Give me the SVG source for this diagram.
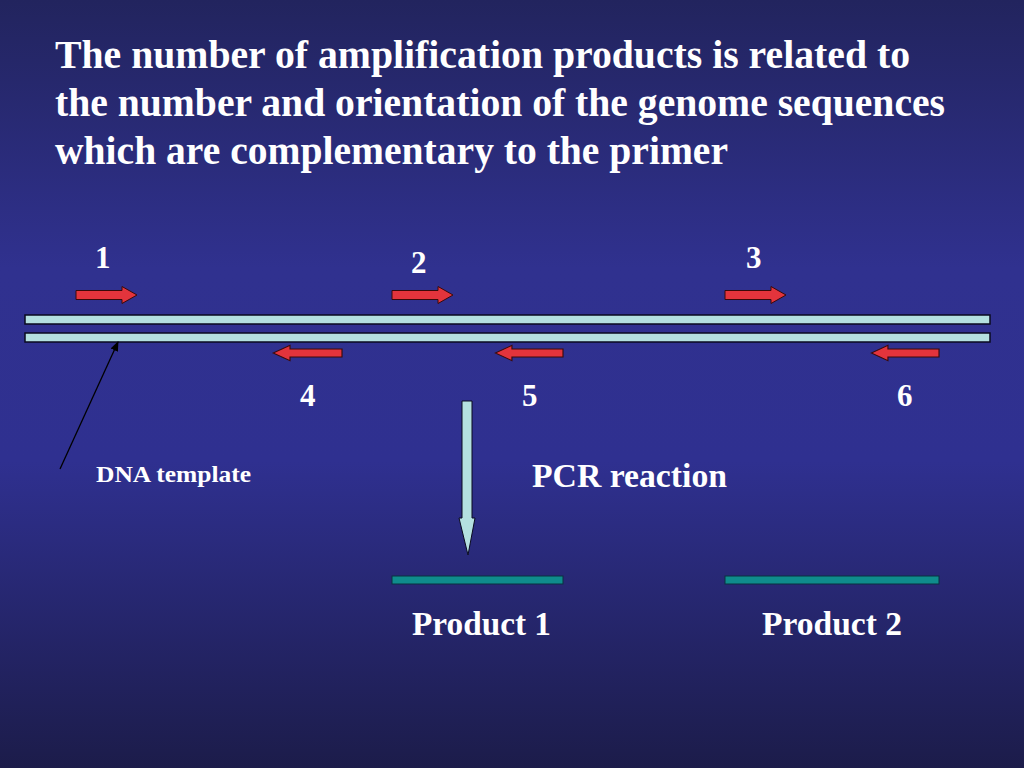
<svg xmlns="http://www.w3.org/2000/svg" width="1024" height="768" viewBox="0 0 1024 768">
<defs>
<linearGradient id="bg" x1="0" y1="0" x2="0" y2="1">
<stop offset="0" stop-color="#22245e"/>
<stop offset="0.35" stop-color="#30318f"/>
<stop offset="0.6" stop-color="#2f3090"/>
<stop offset="1" stop-color="#1c1c4a"/>
</linearGradient>
<marker id="ah" markerWidth="10" markerHeight="10" refX="9" refY="5" orient="auto" markerUnits="userSpaceOnUse"><path d="M0,1 L10,5 L0,9 Z" fill="#000"/></marker>
<path id="ra" d="M0,-4.5 H46 V-8.5 L61,0 L46,8.5 V4.5 H0 Z"/>
</defs>
<style>
text{font-family:"Liberation Serif","Times New Roman",serif;font-weight:bold;fill:#fff}
.t{font-size:39.5px}
.n{font-size:31px}
.red{fill:#e3343c;stroke:#3a0a0a;stroke-width:1}
.strand{fill:#b4e0e0;stroke:#0a0a20;stroke-width:1.5}
.prod{fill:#0f8c8c;stroke:#0a3040;stroke-width:1}
</style>
<rect width="1024" height="768" fill="url(#bg)"/>
<g id="title">
<text class="t" x="55" y="68" textLength="855" lengthAdjust="spacingAndGlyphs">The number of amplification products is related to</text>
<text class="t" x="55" y="116" textLength="890" lengthAdjust="spacingAndGlyphs">the number and orientation of the genome sequences</text>
<text class="t" x="55" y="164" textLength="673" lengthAdjust="spacingAndGlyphs">which are complementary to the primer</text>
</g>
<g id="dna">
<rect class="strand" x="25" y="315" width="965" height="9"/>
<rect class="strand" x="25" y="333" width="965" height="9"/>
</g>
<g id="primers">
<use href="#ra" class="red" transform="translate(76,295)"/>
<use href="#ra" class="red" transform="translate(392,295)"/>
<use href="#ra" class="red" transform="translate(725,295)"/>
<use href="#ra" class="red" transform="translate(342,353) scale(-1.13,0.9)"/>
<use href="#ra" class="red" transform="translate(563,353) scale(-1.11,0.9)"/>
<use href="#ra" class="red" transform="translate(939,353) scale(-1.11,0.9)"/>
</g>
<g id="labels">
<text class="n" x="95" y="268">1</text>
<text class="n" x="411" y="273">2</text>
<text class="n" x="746" y="268">3</text>
<text class="n" x="300" y="406">4</text>
<text class="n" x="522" y="406">5</text>
<text class="n" x="897" y="406">6</text>
<text x="96" y="482" font-size="23" textLength="155" lengthAdjust="spacingAndGlyphs">DNA template</text>
<text x="532" y="487" font-size="33.5" textLength="195" lengthAdjust="spacingAndGlyphs">PCR reaction</text>
<text x="412" y="635" font-size="33" textLength="139" lengthAdjust="spacingAndGlyphs">Product 1</text>
<text x="762" y="635" font-size="33" textLength="140" lengthAdjust="spacingAndGlyphs">Product 2</text>
</g>
<g id="connectors">
<line x1="60" y1="469" x2="118" y2="342" stroke="#000" stroke-width="1.3" marker-end="url(#ah)"/>
<path d="M462,401 H472 V518 H475 L468,555 L459,518 H462 Z" fill="#b4e0e0" stroke="#0a0a20" stroke-width="1"/>
</g>
<g id="products">
<rect class="prod" x="392" y="576" width="171" height="8"/>
<rect class="prod" x="725" y="576" width="214" height="8"/>
</g>
</svg>
